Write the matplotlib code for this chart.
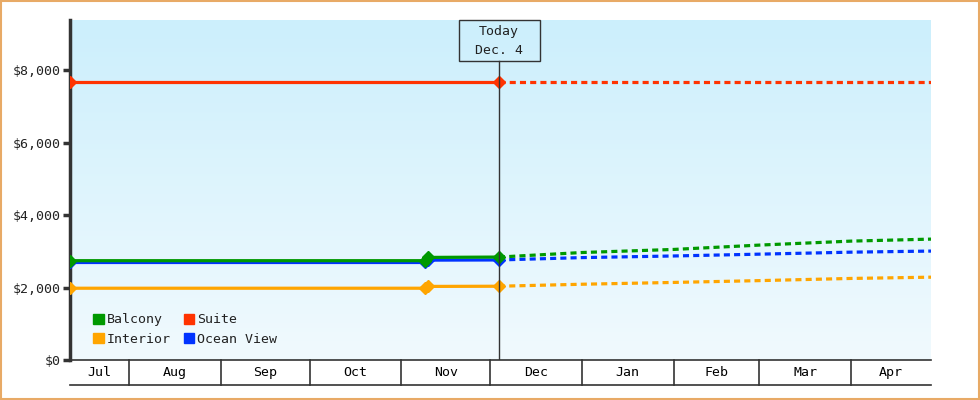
import datetime as dt
import numpy as np
import matplotlib
matplotlib.use('Agg')
import matplotlib.pyplot as plt
import matplotlib.dates as mdates
import matplotlib.transforms as mtrans
from matplotlib.patches import Patch, Rectangle

# chart data
start = dt.date(2011, 7, 12)
end = dt.date(2012, 4, 28)
today = dt.date(2011, 12, 4)

hist_dates = [dt.date(2011, 7, 12), dt.date(2011, 11, 9), dt.date(2011, 11, 10), dt.date(2011, 12, 4)]
fc_dates = [dt.date(2011, 12, 4), dt.date(2012, 1, 1), dt.date(2012, 2, 1), dt.date(2012, 3, 1),
            dt.date(2012, 4, 1), dt.date(2012, 4, 28)]

balcony_hist = [2740, 2740, 2830, 2840]
interior_hist = [1980, 1980, 2030, 2035]
ocean_hist = [2690, 2690, 2755, 2760]
suite_hist = [7670, 7670, 7670, 7670]
suite_marks = [0, 3]

balcony_fc = [2840, 2965, 3050, 3170, 3280, 3335]
interior_fc = [2035, 2090, 2140, 2190, 2250, 2285]
ocean_fc = [2760, 2825, 2870, 2920, 2975, 3005]
suite_fc = [7670, 7670, 7670, 7670, 7670, 7670]

months = ['Jul', 'Aug', 'Sep', 'Oct', 'Nov', 'Dec', 'Jan', 'Feb', 'Mar', 'Apr']
month_starts = [dt.date(2011, m, 1) for m in range(7, 13)] + [dt.date(2012, m, 1) for m in range(1, 5)]

series = [
    ('Balcony', '#009900', balcony_hist, balcony_fc, [0, 1, 2, 3]),
    ('Interior', '#ffa500', interior_hist, interior_fc, [0, 1, 2, 3]),
    ('Suite', '#ff3300', suite_hist, suite_fc, suite_marks),
    ('Ocean View', '#0033ff', ocean_hist, ocean_fc, [0, 1, 2, 3]),
]

plt.rcParams['font.family'] = ['DejaVu Sans Mono']
txt = '#222222'
dark = '#333333'

fig = plt.figure(figsize=(9.8, 4.0), dpi=100)
fig.patches.append(plt.Rectangle((0.001, 0.002), 0.998, 0.996, transform=fig.transFigure,
                                 fill=False, edgecolor='#e8aa66', linewidth=1.5))
ax = fig.add_axes([70 / 980, 40 / 400, 861 / 980, 340 / 400])

x0, x1 = mdates.date2num(start), mdates.date2num(end)
ymax = 9380
# background gradient
grad = np.linspace(0, 1, 256).reshape(-1, 1)
top_c = np.array([204, 239, 252]) / 255
bot_c = np.array([241, 250, 254]) / 255
img = top_c * (1 - grad[..., None]) + bot_c * grad[..., None]
ax.imshow(img, extent=[x0, x1, 0, ymax], aspect='auto', origin='upper', zorder=0)

# order of drawing: suite, interior, ocean, balcony on top
for name in ['Suite', 'Interior', 'Ocean View', 'Balcony']:
    lbl, col, h, f, mk = [s for s in series if s[0] == name][0]
    hd = mdates.date2num(hist_dates)
    ax.plot(hd, h, color=col, lw=2.3, solid_capstyle='butt', zorder=3)
    ax.plot(hd[mk], np.array(h)[mk], linestyle='none', marker='D', ms=6, color=col, zorder=4)
    ax.plot(mdates.date2num(fc_dates), f, color=col, lw=2.3, dashes=(1.9, 1.3), zorder=3)

# today marker with label box
trans = mtrans.blended_transform_factory(ax.transData, ax.transAxes)
tx = mdates.date2num(today)
px_day = 861 / (x1 - x0)
box_h = 41 / 340
ax.plot([tx, tx], [0, 1 - box_h], transform=trans, color=dark, lw=1, zorder=5)
ax.add_patch(Rectangle((tx - 40.5 / px_day, 1 - box_h), 81 / px_day, box_h, transform=trans,
                       fill=False, edgecolor=dark, lw=1, zorder=6, clip_on=False))
ax.text(tx, (360 - 32) / 340, 'Today', transform=trans, ha='center', va='center',
        fontsize=9.5, color=txt, zorder=6)
ax.text(tx, (360 - 50) / 340, 'Dec. 4', transform=trans, ha='center', va='center',
        fontsize=9.5, color=txt, zorder=6)

ax.set_xlim(x0, x1)
ax.set_ylim(0, ymax)
ax.set_yticks([0, 2000, 4000, 6000, 8000])
ax.set_yticklabels(['$0', '$2,000', '$4,000', '$6,000', '$8,000'])
ax.tick_params(axis='y', length=5, width=2.5, color=dark, labelsize=9.5, labelcolor=txt, pad=2)
ax.set_xticks([])
for s in ['top', 'right']:
    ax.spines[s].set_visible(False)
ax.spines['left'].set_linewidth(2.5)
ax.spines['left'].set_color(dark)
ax.spines['bottom'].set_linewidth(1.2)
ax.spines['bottom'].set_color(dark)

# month band under the axis
yb = -25 / 340
ax.plot([x0, x1], [yb, yb], transform=trans, color=dark, lw=1.2, clip_on=False)
edges = [x0] + [mdates.date2num(d) for d in month_starts[1:]] + [x1]
for e in edges[1:-1]:
    ax.plot([e, e], [0, yb], transform=trans, color=dark, lw=1.2, clip_on=False)
for m, a, b in zip(months, edges[:-1], edges[1:]):
    ax.text((a + b) / 2, yb / 2, m, transform=trans, ha='center', va='center',
            fontsize=9.5, color='black')

handles = [Patch(facecolor=s[1], edgecolor=s[1]) for s in series]
ax.legend(handles, [s[0] for s in series], ncol=2, loc='lower left',
          bbox_to_anchor=(14 / 861, 5 / 340), frameon=False, fontsize=9.5,
          handlelength=0.8, handleheight=0.8, handletextpad=0.2, columnspacing=1.0,
          labelspacing=0.5, borderpad=0.2)
for t in ax.get_legend().get_texts():
    t.set_color(txt)

fig.savefig('out.png', dpi=100, facecolor='white')
